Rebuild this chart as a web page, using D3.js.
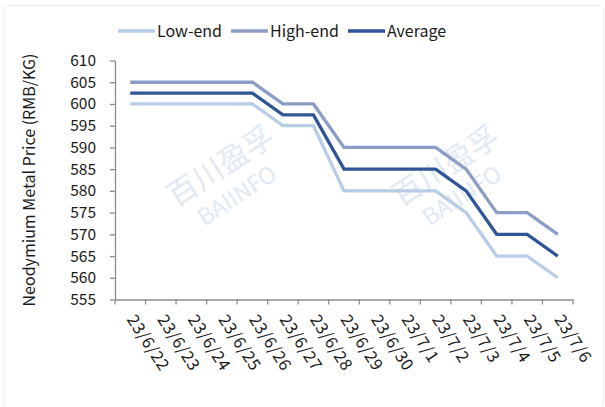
<!DOCTYPE html>
<html><head><meta charset="utf-8">
<script src="https://cdn.jsdelivr.net/npm/d3@7"></script>
<style>body{margin:0;background:#fff}svg{display:block}</style>
</head><body>
<svg id="c" width="605" height="407"></svg>
<script>
const categories = ["23/6/22","23/6/23","23/6/24","23/6/25","23/6/26","23/6/27","23/6/28","23/6/29","23/6/30","23/7/1","23/7/2","23/7/3","23/7/4","23/7/5","23/7/6"];
const lowEnd  = [600,600,600,600,600,595,595,580,580,580,580,575,565,565,560];
const highEnd = [605,605,605,605,605,600,600,590,590,590,590,585,575,575,570];
const average = [602.5,602.5,602.5,602.5,602.5,597.5,597.5,585,585,585,585,580,570,570,565];
const yTicks = [555,560,565,570,575,580,585,590,595,600,605,610];
const seriesNames = ["Low-end","High-end","Average"];
const colors = ["#b7cde6","#8b9dc6","#2f5597"];

const font = "'Noto Sans CJK SC','Noto Sans',sans-serif";
const svg = d3.select("#c");
svg.append("rect").attr("x",3.5).attr("y",5.5).attr("width",600).attr("height",402)
  .attr("rx",3).attr("fill","none").attr("stroke","#f0f0f0");

const pL=115, pR=573, pT=60.5, pB=299.5;
const x = d3.scaleBand().domain(categories).range([pL,pR]);
const y = d3.scaleLinear().domain([555,610]).range([pB,pT]);

// watermark
[0,225].forEach(dx=>{
  svg.append("text").attr("transform",`translate(${222+dx},${168}) rotate(-33)`)
    .attr("text-anchor","middle").attr("dominant-baseline","middle")
    .attr("font-family",font).attr("font-size",30).attr("fill","#e1e9f2").text("百川盈孚");
  svg.append("text").attr("transform",`translate(${238+dx},${197}) rotate(-33)`)
    .attr("text-anchor","middle").attr("dominant-baseline","middle")
    .attr("font-family",font).attr("font-size",23).attr("fill","#e1e9f2").text("BAIINFO");
});

// y axis
const ya = svg.append("g").attr("transform",`translate(${pL},0)`)
  .call(d3.axisLeft(y).tickValues(yTicks).tickSize(5).tickSizeOuter(0).tickPadding(14));
ya.select(".domain").attr("stroke","#8c8c8c").attr("stroke-width",1.3);
ya.selectAll(".tick line").attr("stroke","#8c8c8c").attr("stroke-width",1.3);
ya.selectAll("text").attr("font-family",font).attr("font-size",15.5).attr("fill","#1a1a1a");

// x axis
const xa = svg.append("g").attr("transform",`translate(0,${pB})`)
  .call(d3.axisBottom(x).tickSize(0).tickSizeOuter(0));
xa.select(".domain").attr("stroke","#8c8c8c").attr("stroke-width",1.3);
xa.selectAll(".tick line").remove();
xa.selectAll("text").remove();
// tick marks at band boundaries
const bounds = categories.map(c=>x(c)).concat([pR]);
svg.append("g").selectAll("line").data(bounds).join("line")
  .attr("x1",d=>d).attr("x2",d=>d).attr("y1",pB).attr("y2",pB+5)
  .attr("stroke","#8c8c8c").attr("stroke-width",1.3);
svg.append("g").selectAll("text").data(categories).join("text")
  .attr("transform",d=>`translate(${x(d)+x.bandwidth()/2-4},${pB+20}) rotate(57)`)
  .attr("font-family",font).attr("font-size",16.5).attr("letter-spacing",0.6).attr("fill","#1a1a1a")
  .text(d=>d);

// y label
svg.append("text").attr("transform",`translate(35,${(pT+pB)/2}) rotate(-90)`)
  .attr("text-anchor","middle").attr("font-family",font).attr("font-size",16).attr("fill","#1a1a1a")
  .text("Neodymium Metal Price (RMB/KG)");

// lines
const line = d3.line().x((d,i)=>x(categories[i])+x.bandwidth()/2).y(d=>y(d));
[lowEnd,highEnd,average].forEach((s,i)=>{
  svg.append("path").datum(s).attr("d",line).attr("fill","none")
    .attr("stroke",colors[i]).attr("stroke-width",3.3);
});

// legend
const legX = [118,231,348];
seriesNames.forEach((n,i)=>{
  svg.append("line").attr("x1",legX[i]).attr("x2",legX[i]+37).attr("y1",31).attr("y2",31)
    .attr("stroke",colors[i]).attr("stroke-width",3.3);
  svg.append("text").attr("x",legX[i]+39).attr("y",37).attr("font-family",font)
    .attr("font-size",16).attr("fill","#1a1a1a").text(n);
});
</script>
</body></html>
